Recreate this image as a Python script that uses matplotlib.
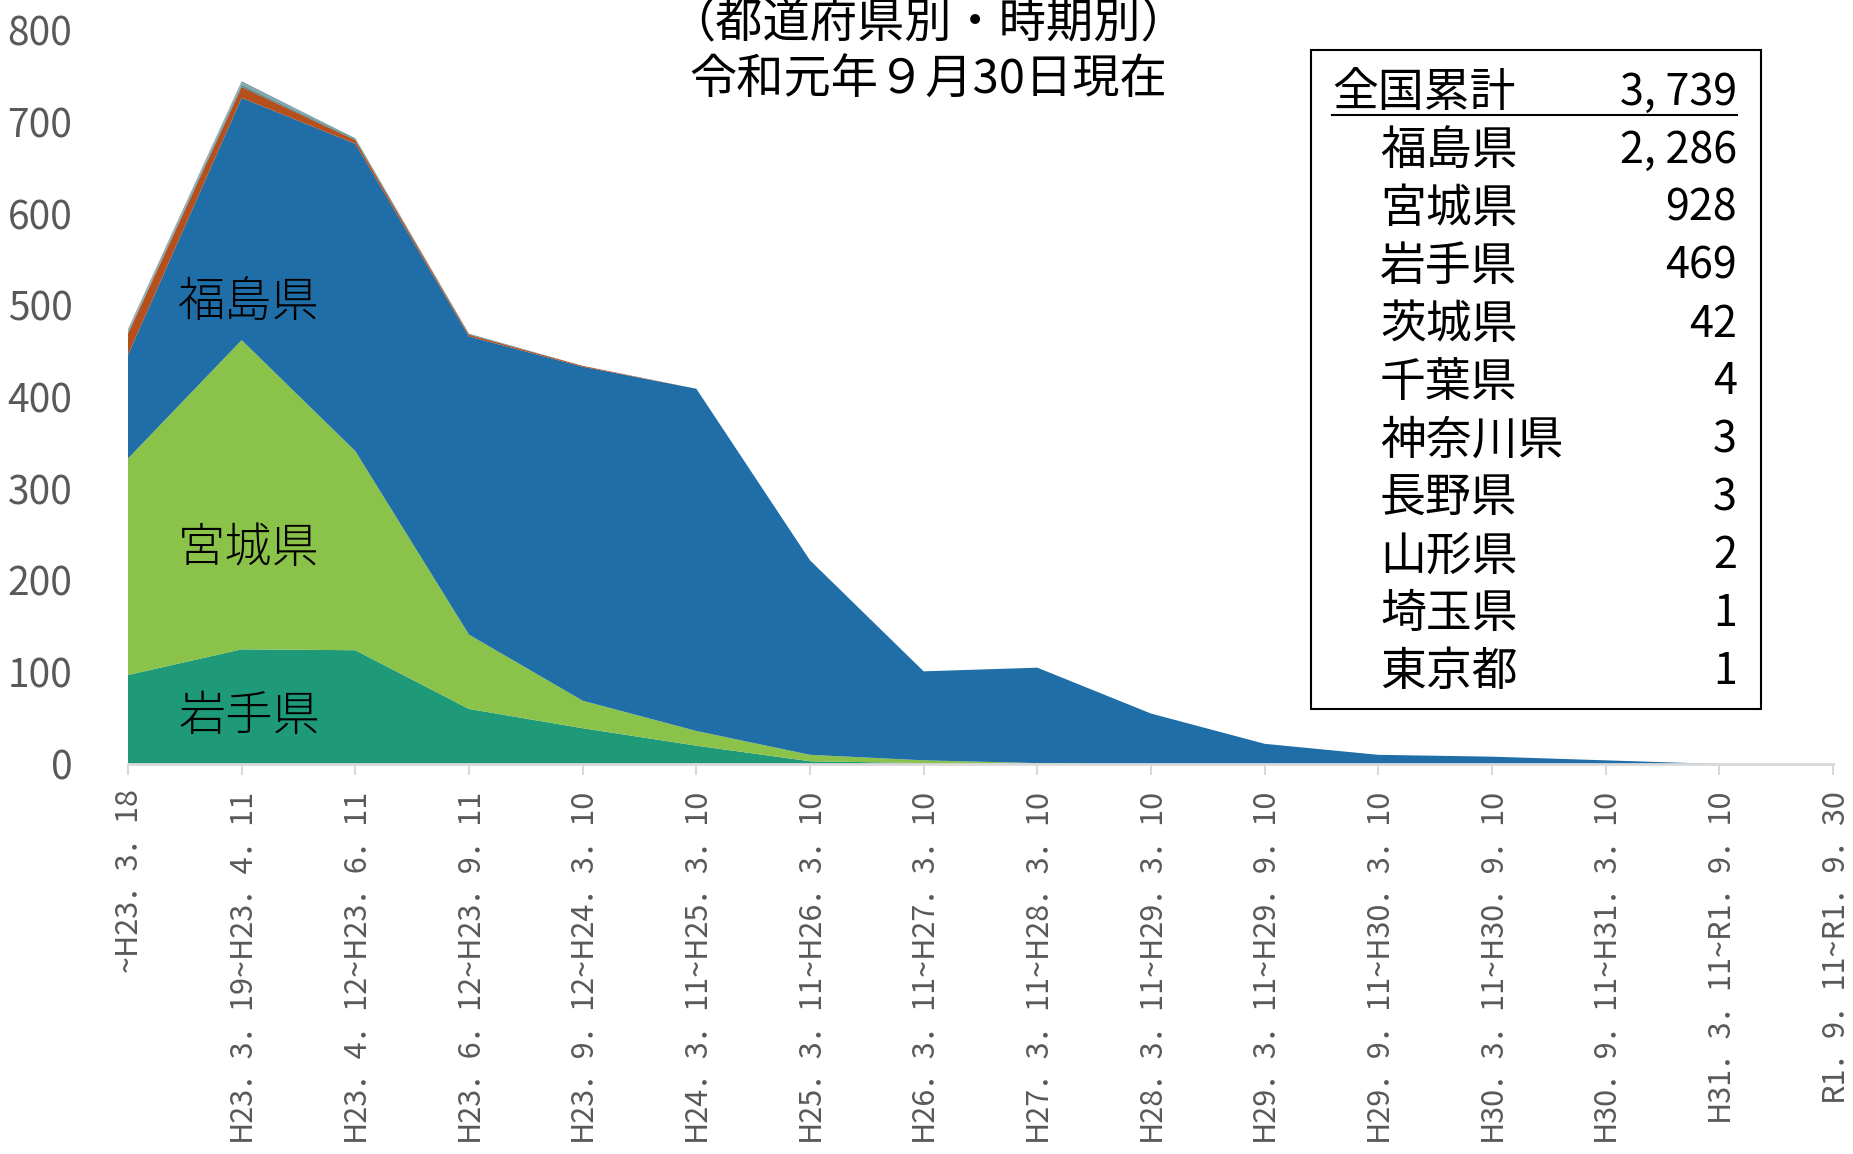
"""Stacked area chart of deaths by prefecture and period."""

import matplotlib.pyplot as plt
import numpy as np
from matplotlib.lines import Line2D
from matplotlib.patches import Rectangle

W, H = 1853, 1154
DPI = 100
FIGSIZE = (W / DPI, H / DPI)
JP = ['Noto Sans CJK JP', 'DejaVu Sans']
GREY = '#595959'
AXIS_GREY = '#D9D9D9'

PERIODS = [
    '~H23．3．18',
    'H23．3．19~H23．4．11',
    'H23．4．12~H23．6．11',
    'H23．6．12~H23．9．11',
    'H23．9．12~H24．3．10',
    'H24．3．11~H25．3．10',
    'H25．3．11~H26．3．10',
    'H26．3．11~H27．3．10',
    'H27．3．11~H28．3．10',
    'H28．3．11~H29．3．10',
    'H29．3．11~H29．9．10',
    'H29．9．11~H30．3．10',
    'H30．3．11~H30．9．10',
    'H30．9．11~H31．3．10',
    'H31．3．11~R1．9．10',
    'R1．9．11~R1．9．30',
]

# values, bottom series first
IWATE = [97, 125, 124, 60, 39, 20, 3, 1, 0, 0, 0, 0, 0, 0, 0, 0]
MIYAGI = [236, 337, 217, 81, 30, 16, 7, 3, 1, 0, 0, 0, 0, 0, 0, 0]
FUKUSHIMA = [113, 264, 335, 325, 364, 373, 212, 97, 104, 55, 22, 10, 8, 4, 0, 0]
IBARAKI = [23, 12, 4, 2, 1, 0, 0, 0, 0, 0, 0, 0, 0, 0, 0, 0]
CHIBA = [1, 2, 1, 0, 0, 0, 0, 0, 0, 0, 0, 0, 0, 0, 0, 0]
KANAGAWA = [1, 1, 0, 1, 0, 0, 0, 0, 0, 0, 0, 0, 0, 0, 0, 0]
NAGANO = [1, 1, 1, 0, 0, 0, 0, 0, 0, 0, 0, 0, 0, 0, 0, 0]
YAMAGATA = [1, 1, 0, 0, 0, 0, 0, 0, 0, 0, 0, 0, 0, 0, 0, 0]
SAITAMA = [0, 1, 0, 0, 0, 0, 0, 0, 0, 0, 0, 0, 0, 0, 0, 0]
TOKYO = [1, 0, 0, 0, 0, 0, 0, 0, 0, 0, 0, 0, 0, 0, 0, 0]

SERIES = [IWATE, MIYAGI, FUKUSHIMA, IBARAKI, CHIBA, KANAGAWA, NAGANO,
          YAMAGATA, SAITAMA, TOKYO]
COLORS = ['#1F9A78', '#8BC249', '#1F6EA8', '#B54F1C', '#4F8A9A', '#6B9AA5',
          '#5E8E8E', '#7A9AA0', '#4C7F8C', '#808080']

TOTAL_LABEL = '全国累計'
TOTAL_VALUE = '3, 739'
PREF_NAMES = ['福島県', '宮城県', '岩手県', '茨城県', '千葉県', '神奈川県',
              '長野県', '山形県', '埼玉県', '東京都']
PREF_TOTALS = ['2, 286', '928', '469', '42', '4', '3', '3', '2', '1', '1']

AREA_LABELS = ['福島県', '宮城県', '岩手県']
AREA_LABEL_POS = [(249, 303), (249, 548), (249, 717)]

TITLE_LINES = ['（都道府県別・時期別）', '令和元年９月30日現在']


def px(x, y):
    """Pixel position (top-left origin) to figure fraction."""
    return x / W, 1 - y / H


def main():
    """."""
    x = np.arange(len(PERIODS))

    fig = plt.figure(figsize=FIGSIZE, dpi=DPI)
    left, top = px(128, 30)
    right, bottom = px(1833, 764)
    ax = fig.add_axes([left, bottom, right - left, top - bottom])

    ax.stackplot(x, *SERIES, colors=COLORS, linewidth=0)
    ax.set_xlim(0, len(PERIODS) - 1)
    ax.set_ylim(0, 800)

    for side in ('top', 'right', 'left'):
        ax.spines[side].set_visible(False)
    ax.spines['bottom'].set_color(AXIS_GREY)
    ax.spines['bottom'].set_linewidth(2)

    ax.set_xticks(x)
    ax.set_xticklabels(PERIODS, rotation=90, fontsize=22, color=GREY,
                       family=JP)
    ax.tick_params(axis='x', length=8, width=1.5, color=AXIS_GREY, pad=9)
    ax.set_yticks(range(0, 801, 100))
    ax.set_yticklabels([str(v) for v in range(0, 801, 100)], fontsize=28,
                       color=GREY, family=JP)
    ax.tick_params(axis='y', length=0, pad=40)

    for name, (lx, ly) in zip(AREA_LABELS, AREA_LABEL_POS):
        fig.text(*px(lx, ly), name, fontsize=34, family=JP, weight='light',
                 ha='center', va='center', color='black')

    fig.text(*px(928, 23), TITLE_LINES[0], fontsize=34, family=JP,
             ha='center', va='center')
    fig.text(*px(928, 81), TITLE_LINES[1], fontsize=34, family=JP,
             ha='center', va='center')

    # summary box
    bx0, by0 = px(1311, 709)
    bx1, by1 = px(1761, 50)
    fig.add_artist(Rectangle((bx0, by0), bx1 - bx0, by1 - by0,
                             transform=fig.transFigure, fill=False,
                             edgecolor='black', linewidth=1.5))
    row_y = 93
    step = 57.9
    fig.text(*px(1332, row_y), TOTAL_LABEL, fontsize=33, family=JP,
             ha='left', va='center')
    fig.text(*px(1737, row_y), TOTAL_VALUE, fontsize=31, family=JP,
             ha='right', va='center')
    ux0, uy = px(1332, 115)
    ux1, _ = px(1737, 115)
    fig.add_artist(Line2D([ux0, ux1], [uy, uy], transform=fig.transFigure,
                          color='black', linewidth=1.5))
    for i, (name, val) in enumerate(zip(PREF_NAMES, PREF_TOTALS)):
        yy = row_y + step * (i + 1)
        fig.text(*px(1380, yy), name, fontsize=33, family=JP,
                 ha='left', va='center')
        fig.text(*px(1737, yy), val, fontsize=31, family=JP,
                 ha='right', va='center')

    fig.savefig('out.png', dpi=DPI)
    plt.close(fig)


if __name__ == '__main__':
    main()
